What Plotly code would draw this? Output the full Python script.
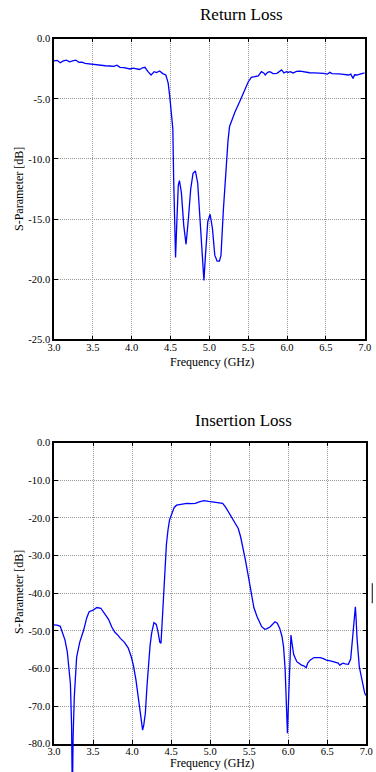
import plotly.graph_objects as go

# ---------------- data ----------------
rl_freq = [3.00, 3.04, 3.08, 3.12, 3.16, 3.20, 3.24, 3.28, 3.32, 3.36, 3.40, 3.46, 3.52, 3.59,
           3.66, 3.72, 3.77, 3.81, 3.85, 3.90, 3.94, 3.98, 4.02, 4.06, 4.10, 4.14, 4.17, 4.21,
           4.25, 4.29, 4.32, 4.36, 4.40, 4.44, 4.47, 4.49, 4.51, 4.53, 4.54, 4.555, 4.565, 4.58,
           4.60, 4.615, 4.64, 4.67, 4.70, 4.73, 4.76, 4.79, 4.82, 4.85, 4.88, 4.91, 4.93, 4.95,
           4.98, 5.01, 5.04, 5.07, 5.10, 5.13, 5.15, 5.18, 5.20, 5.22, 5.24, 5.26, 5.29, 5.33,
           5.39, 5.43, 5.46, 5.50, 5.54, 5.59, 5.63, 5.67, 5.70, 5.72, 5.75, 5.78, 5.82, 5.87,
           5.90, 5.93, 5.96, 5.99, 6.02, 6.04, 6.08, 6.12, 6.17, 6.23, 6.29, 6.35, 6.41, 6.47,
           6.52, 6.55, 6.58, 6.62, 6.66, 6.70, 6.74, 6.79, 6.82, 6.85, 6.87, 6.90, 6.94, 6.98, 7.00]
rl_db = [-1.85, -1.80, -2.00, -1.85, -1.78, -1.92, -1.85, -1.78, -1.97, -1.95, -2.05, -2.10, -2.18, -2.24,
         -2.25, -2.27, -2.30, -2.20, -2.38, -2.40, -2.48, -2.52, -2.45, -2.50, -2.56, -2.42, -2.38, -2.74,
         -3.02, -2.74, -2.82, -2.69, -2.90, -3.02, -3.70, -4.80, -6.00, -7.50, -11.5, -16.5, -18.2, -15.5,
         -12.2, -11.8, -12.8, -15.5, -17.1, -15.0, -12.5, -11.2, -11.0, -12.0, -15.0, -18.5, -20.1, -18.0,
         -15.2, -14.6, -15.8, -18.0, -18.5, -18.5, -18.0, -14.3, -12.0, -10.1, -8.5, -7.3, -6.7, -6.1,
         -5.24, -4.6, -4.13, -3.6, -3.21, -3.16, -3.10, -2.74, -2.85, -3.02, -2.80, -2.74, -2.90, -2.88,
         -2.75, -2.60, -2.85, -2.75, -2.80, -2.74, -2.85, -2.72, -2.69, -2.78, -2.83, -2.85, -2.85, -2.88,
         -2.95, -2.80, -2.90, -2.88, -2.92, -2.94, -2.98, -3.02, -2.95, -3.30, -3.00, -3.02, -2.95, -2.88, -2.85]

il_freq = [3.00, 3.04, 3.08, 3.11, 3.14, 3.17, 3.19, 3.21, 3.225, 3.235, 3.245, 3.26, 3.29, 3.33,
           3.38, 3.42, 3.45, 3.50, 3.55, 3.60, 3.65, 3.70, 3.74, 3.78, 3.82, 3.85, 3.90, 3.95,
           3.99, 4.02, 4.05, 4.08, 4.10, 4.12, 4.135, 4.15, 4.17, 4.19, 4.21, 4.23, 4.25, 4.28,
           4.31, 4.33, 4.355, 4.37, 4.38, 4.40, 4.42, 4.44, 4.46, 4.48, 4.51, 4.54, 4.57, 4.62,
           4.70, 4.76, 4.81, 4.86, 4.92, 4.98, 5.04, 5.10, 5.16, 5.20, 5.23, 5.27, 5.30, 5.36,
           5.39, 5.42, 5.45, 5.49, 5.53, 5.56, 5.60, 5.63, 5.66, 5.70, 5.73, 5.77, 5.80, 5.83,
           5.86, 5.89, 5.92, 5.94, 5.96, 5.975, 5.99, 6.005, 6.02, 6.035, 6.05, 6.07, 6.11, 6.17,
           6.20, 6.23, 6.25, 6.28, 6.33, 6.41, 6.45, 6.49, 6.54, 6.58, 6.62, 6.64, 6.66, 6.68,
           6.70, 6.73, 6.77, 6.80, 6.815, 6.83, 6.845, 6.86, 6.87, 6.88, 6.91, 6.95, 6.98, 7.00]
il_db = [-48.4, -48.5, -48.8, -50.5, -52.4, -55.5, -59.0, -64.0, -75.0, -95.0, -78.0, -67.5, -57.0, -53.0,
         -49.8, -46.5, -44.9, -44.5, -43.8, -44.0, -45.5, -47.0, -49.0, -50.4, -51.2, -52.0, -53.0, -54.5,
         -56.9, -59.5, -63.1, -68.0, -71.9, -75.5, -76.4, -75.0, -71.9, -65.0, -58.6, -54.0, -50.7, -47.8,
         -48.3, -50.0, -53.0, -53.3, -49.8, -42.0, -34.0, -27.0, -23.2, -20.5, -18.8, -17.2, -16.6, -16.4,
         -16.1, -16.2, -16.1, -15.7, -15.4, -15.6, -15.8, -15.8, -16.1, -17.2, -18.3, -19.8, -21.0, -22.8,
         -25.0, -27.6, -31.0, -35.6, -40.9, -43.8, -46.2, -47.8, -48.9, -49.6, -49.4, -48.9, -48.2, -47.6,
         -48.0, -49.3, -51.5, -54.2, -60.0, -68.0, -77.2, -68.0, -58.0, -51.1, -53.5, -56.3, -58.2, -59.1,
         -59.3, -59.8, -58.6, -57.8, -57.1, -57.1, -57.4, -57.8, -58.0, -58.2, -58.4, -58.6, -59.1, -58.8,
         -58.6, -58.8, -58.9, -57.5, -54.0, -49.8, -45.0, -43.6, -47.0, -51.6, -59.5, -63.1, -66.6, -67.2]

x_tickvals = [3.0, 3.5, 4.0, 4.5, 5.0, 5.5, 6.0, 6.5, 7.0]
x_ticktext = ["3.0", "3.5", "4.0", "4.5", "5.0", "5.5", "6.0", "6.5", "7.0"]
rl_tickvals = [0, -5, -10, -15, -20, -25]
rl_ticktext = ["0.0", "-5.0", "-10.0", "-15.0", "-20.0", "-25.0"]
il_tickvals = [0, -10, -20, -30, -40, -50, -60, -70, -80]
il_ticktext = ["0.0", "-10.0", "-20.0", "-30.0", "-40.0", "-50.0", "-60.0", "-70.0", "-80.0"]

titles = ["Return Loss", "Insertion Loss"]
x_label = "Frequency (GHz)"
y_label = "S-Parameter [dB]"

# ---------------- figure ----------------
W, H = 376, 772
FONT = "Liberation Serif, Times New Roman, serif"
LINE = dict(color="#0000ff", width=1.3)


def py(px):
    return 1 - px / H


fig = go.Figure()
fig.add_trace(go.Scatter(x=rl_freq, y=rl_db, mode="lines", line=LINE, xaxis="x", yaxis="y",
                         showlegend=False, hoverinfo="x+y"))
# insertion loss drawn on an invisible axis with same scale but extended downward
fig.add_trace(go.Scatter(x=il_freq, y=il_db, mode="lines", line=LINE, xaxis="x3", yaxis="y3",
                         showlegend=False, hoverinfo="x+y"))
# dummy (empty) trace so the framed bottom axes get drawn
fig.add_trace(go.Scatter(x=[None], y=[None], xaxis="x2", yaxis="y2", showlegend=False))

tick_font = dict(family=FONT, size=10.5, color="#000")
GRID = dict(showgrid=True, gridcolor="#999999", griddash="1px,1px", gridwidth=1)
common_x = dict(range=[3.0, 7.0], tickvals=x_tickvals, ticktext=x_ticktext, ticks="inside",
                ticklen=4, tickcolor="#000", showline=True, linecolor="#000", linewidth=1.5,
                mirror="ticks", zeroline=False, tickfont=tick_font, automargin=False,
                fixedrange=True, ticklabelstandoff=-3, **GRID)
common_y = dict(ticks="inside", ticklen=4, tickcolor="#000", showline=True, linecolor="#000",
                linewidth=1.5, mirror="ticks", zeroline=False, tickfont=tick_font,
                automargin=False, fixedrange=True, **GRID)

top_dom = [py(339.3), py(38.7)]
bot_dom = [py(743.7), py(442.7)]
px_per_db = (743.7 - 442.7) / 80.0
ext_bottom = -(H - 442.7) / px_per_db

fig.update_layout(
    width=W, height=H,
    margin=dict(l=0, r=0, t=0, b=0),
    paper_bgcolor="white", plot_bgcolor="rgba(0,0,0,0)",
    xaxis=dict(domain=[54 / W, 364.7 / W], anchor="y", **common_x),
    yaxis=dict(domain=top_dom, anchor="x", range=[-25, 0], tickvals=rl_tickvals,
               ticktext=rl_ticktext, **common_y),
    xaxis2=dict(domain=[54 / W, 366.3 / W], anchor="y2", **common_x),
    yaxis2=dict(domain=bot_dom, anchor="x2", range=[-80, 0], tickvals=il_tickvals,
                ticktext=il_ticktext, **common_y),
    xaxis3=dict(domain=[54 / W, 366.3 / W], anchor="y3", range=[3.0, 7.0], visible=False,
                fixedrange=True),
    yaxis3=dict(domain=[0, py(442.7)], anchor="x3", range=[ext_bottom, 0], visible=False,
                fixedrange=True),
    showlegend=False,
)

ann_font_t = dict(family=FONT, size=17, color="#000")
ann_font_l = dict(family=FONT, size=12, color="#000")
fig.add_annotation(text=titles[0], x=242 / W, y=py(15), xref="paper", yref="paper",
                   showarrow=False, font=ann_font_t, xanchor="center", yanchor="middle")
fig.add_annotation(text=titles[1], x=243.3 / W, y=py(420), xref="paper", yref="paper",
                   showarrow=False, font=ann_font_t, xanchor="center", yanchor="middle")
fig.add_annotation(text=x_label, x=212 / W, y=py(361.7), xref="paper", yref="paper",
                   showarrow=False, font=ann_font_l, xanchor="center", yanchor="middle")
fig.add_annotation(text=x_label, x=212.3 / W, y=py(772), xref="paper", yref="paper",
                   showarrow=False, font=ann_font_l, xanchor="center", yanchor="bottom")
fig.add_annotation(text=y_label, x=19 / W, y=py(189), xref="paper", yref="paper",
                   showarrow=False, font=ann_font_l, textangle=-90, xanchor="center",
                   yanchor="middle")
fig.add_annotation(text=y_label, x=19 / W, y=py(592), xref="paper", yref="paper",
                   showarrow=False, font=ann_font_l, textangle=-90, xanchor="center",
                   yanchor="middle")

# small stray legend fragment at right edge of the lower panel
fig.add_shape(type="line", xref="paper", yref="paper", x0=372.3 / W, x1=372.3 / W,
              y0=py(583.3), y1=py(603.3), line=dict(color="#333", width=1.2))

fig.write_html("out.html")
